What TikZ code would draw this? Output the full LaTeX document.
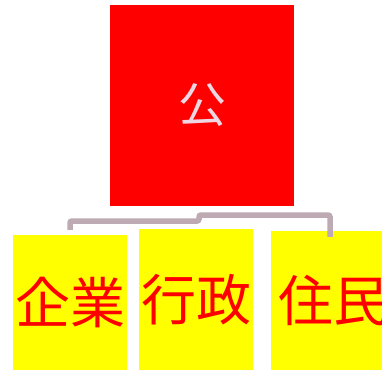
\documentclass[tikz,border=0pt]{standalone}
\usepackage{fontspec}
\newfontfamily\cjk{Noto Sans CJK JP}
\definecolor{boxred}{RGB}{255,0,0}
\definecolor{boxyellow}{RGB}{255,255,0}
\definecolor{linkgrey}{RGB}{190,170,178}
\definecolor{palepink}{RGB}{238,214,226}
\tikzset{
	top/.style={fill=boxred, text=palepink, font=\cjk\fontsize{48}{48}\selectfont, inner sep=0pt},
	member/.style={fill=boxyellow, text=boxred, font=\cjk\fontsize{55}{55}\selectfont, inner sep=0pt},
	link/.style={draw=linkgrey, line width=5.5pt, rounded corners=2pt}
}
\begin{document}
\begin{tikzpicture}[x=1pt,y=-1pt]
	\useasboundingbox (0,0) rectangle (382,371);
	\node[top, minimum width=184pt, minimum height=201pt] (gong) at (202,105.5) {公};
	\node[member, minimum width=114pt, minimum height=135pt] (qiye) at (70,302.5) {企業};
	\node[member, minimum width=114pt, minimum height=141pt] (xingzheng) at (196,299.5) {行政};
	\node[member, minimum width=111pt, minimum height=139pt, text width=111pt, align=center] (zhumin) at (326.5,300.5) {\hspace*{7pt}住民};

	\coordinate (j1) at (199,221);
	\coordinate (j2) at (199,215);

	\path [link] (qiye.north) ++(0,-5) |- (j1) -- (j2) -| ([yshift=-6pt]zhumin.north -| 330,0);
\end{tikzpicture}
\end{document}
